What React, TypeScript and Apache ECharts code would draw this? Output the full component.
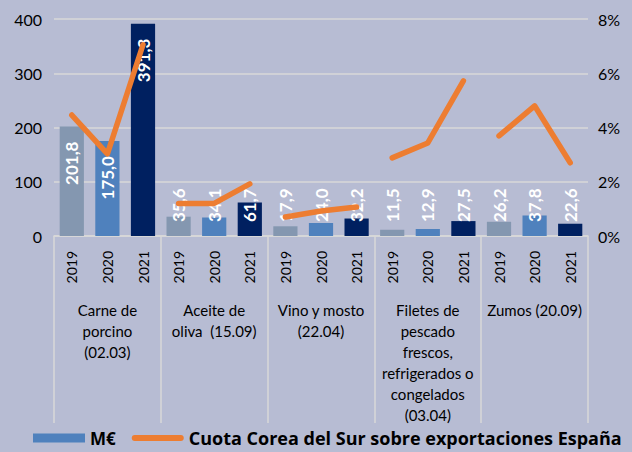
import React, { useEffect, useRef } from "react";
import * as echarts from "echarts";

const years = ["2019", "2020", "2021"];
const groups = [
  "Carne de\nporcino\n(02.03)",
  "Aceite de\noliva  (15.09)",
  "Vino y mosto\n(22.04)",
  "Filetes de\npescado\nfrescos,\nrefrigerados o\ncongelados\n(03.04)",
  "Zumos (20.09)",
];
const valuesMEur = [
  [201.8, 175.0, 391.3],
  [35.6, 34.1, 61.7],
  [17.9, 24.0, 32.2],
  [11.5, 12.9, 27.5],
  [26.2, 37.8, 22.6],
];
const sharePct = [
  [4.46, 3.03, 7.05],
  [1.2, 1.2, 1.92],
  [0.7, 0.92, 1.07],
  [2.88, 3.43, 5.72],
  [3.69, 4.8, 2.7],
];
const leftTicks = [0, 100, 200, 300, 400];
const rightTicks = [0, 2, 4, 6, 8];

const yearColors = ["#8497B0", "#4F81BD", "#002060"];
const BG = "#B7BCD3";
const FONT = "Lato, 'Open Sans', sans-serif";
const LEGEND_FONT = "'Open Sans', Lato, sans-serif";
const lineName = "Cuota Corea del Sur sobre exportaciones España";

export default function App() {
  const ref = useRef<HTMLDivElement>(null);
  useEffect(() => {
    if (!ref.current) return;
    document.body.style.background = BG;
    const chart = echarts.init(ref.current, null, { renderer: "svg" });
    const cats: string[] = [];
    groups.forEach((_, g) => years.forEach((y) => cats.push(y + "_" + g)));

    const barData: any[] = [];
    valuesMEur.forEach((arr) =>
      arr.forEach((v, i) => {
        const big = v > 100;
        barData.push({
          value: v,
          itemStyle: { color: yearColors[i] },
          label: big
            ? { position: "insideTop", distance: 15, align: "right", verticalAlign: "middle" }
            : { position: "insideBottom", distance: 14, align: "left", verticalAlign: "middle" },
        });
      })
    );

    const lineSeries = sharePct.map((arr, g) => {
      const data: any[] = cats.map(() => "-");
      arr.forEach((v, i) => (data[g * 3 + i] = v));
      return {
        type: "line",
        name: lineName,
        xAxisIndex: 0,
        yAxisIndex: 1,
        data,
        symbol: "none",
        connectNulls: false,
        lineStyle: { color: "#ED7D31", width: 5.5, cap: "round", join: "round" },
        itemStyle: { color: "#ED7D31" },
        z: 5,
      };
    });

    chart.setOption({
      animation: false,
      backgroundColor: BG,
      textStyle: { fontFamily: FONT },
      grid: { left: 54, right: 44, top: 19, bottom: 216 },
      legend: {
        left: 28,
        top: 424,
        itemWidth: 52,
        itemHeight: 9,
        itemGap: 16,
        symbolKeepAspect: true,
        data: [
          { name: "M€", icon: "rect" },
          {
            name: lineName,
            icon: "path://M3,0H49A3,3,0,0,1,49,6H3A3,3,0,0,1,3,0Z",
            itemStyle: { color: "#ED7D31" },
            textStyle: { fontSize: 18 },
          },
        ],
        textStyle: { fontFamily: LEGEND_FONT, fontSize: 17, fontWeight: "bold", color: "#000" },
      },
      xAxis: [
        {
          type: "category",
          data: cats,
          position: "bottom",
          axisTick: { show: false },
          axisLine: { show: true, lineStyle: { color: "#D9D9D9", width: 1.5 } },
          axisLabel: {
            rotate: 90,
            interval: 0,
            margin: 15,
            fontFamily: FONT,
            fontSize: 14,
            color: "#000",
            formatter: (v: string) => v.split("_")[0],
          },
        },
        {
          type: "category",
          data: groups,
          position: "bottom",
          axisLine: { show: false },
          axisTick: { show: true, length: 187, interval: 0, lineStyle: { color: "#D9D9D9", width: 1.5 } },
          axisLabel: {
            interval: 0,
            margin: 63,
            fontFamily: FONT,
            fontSize: 15,
            lineHeight: 21,
            color: "#000",
            verticalAlign: "top",
          },
        },
      ],
      yAxis: [
        {
          type: "value",
          min: 0,
          max: 400,
          interval: 100,
          axisLine: { show: false },
          axisTick: { show: false },
          splitLine: { lineStyle: { color: "#D9D9D9", width: 1.5 } },
          axisLabel: {
            fontFamily: FONT,
            fontSize: 16,
            color: "#000",
            margin: 12,
            formatter: (v: number) => (leftTicks.includes(v) ? String(v) : ""),
          },
        },
        {
          type: "value",
          min: 0,
          max: 8,
          interval: 2,
          position: "right",
          axisLine: { show: false },
          axisTick: { show: false },
          splitLine: { show: false },
          axisLabel: {
            fontFamily: FONT,
            fontSize: 16,
            color: "#000",
            margin: 10,
            formatter: (v: number) => (rightTicks.includes(v) ? v + "%" : ""),
          },
        },
      ],
      series: [
        {
          type: "bar",
          name: "M€",
          xAxisIndex: 0,
          yAxisIndex: 0,
          data: barData,
          barWidth: "68%",
          itemStyle: { color: "#4F81BD" },
          label: {
            show: true,
            rotate: 90,
            fontFamily: FONT,
            fontSize: 17,
            fontWeight: "bold",
            color: "#fff",
            formatter: (p: any) => p.value.toFixed(1).replace(".", ","),
          },
          z: 2,
        },
        ...lineSeries,
      ],
    });
    return () => chart.dispose();
  }, []);
  return (
    <div
      ref={ref}
      style={{ position: "fixed", left: 0, top: 0, width: 632, height: 452 }}
    />
  );
}
